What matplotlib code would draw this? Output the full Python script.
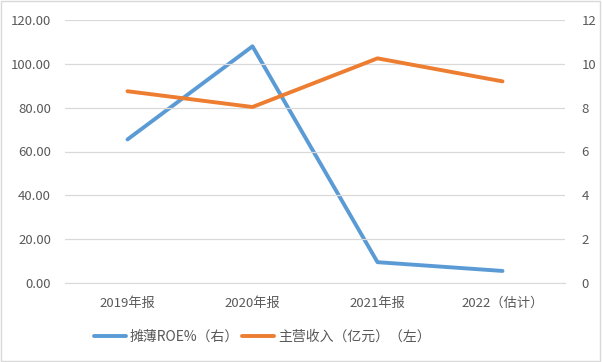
import matplotlib.pyplot as plt

plt.rcParams['font.family'] = ['Noto Sans CJK SC', 'DejaVu Sans']

categories = ['2019年报', '2020年报', '2021年报', '2022（估计）']
roe = [6.55, 10.8, 0.95, 0.55]          # 摊薄ROE%, right axis
revenue = [87.5, 80.3, 102.5, 92.0]     # 主营收入（亿元）, left axis

blue = '#5b9bd5'
orange = '#ed7d31'
text_color = '#595959'


def main():
    fig = plt.figure(figsize=(6.02, 3.62), dpi=100)
    ax = fig.add_axes([65 / 602, 1 - 283 / 362, 500 / 602, 263 / 362])
    ax2 = ax.twinx()

    x = range(len(categories))
    l1, = ax2.plot(x, roe, color=blue, lw=2.8, solid_capstyle='round',
                   label='摊薄ROE%（右）')
    l2, = ax.plot(x, revenue, color=orange, lw=2.8, solid_capstyle='round',
                  label='主营收入（亿元）（左）')
    ax.set_zorder(ax2.get_zorder() + 1)
    ax.patch.set_visible(False)

    ax.set_xlim(-0.5, len(categories) - 0.5)
    ax.set_ylim(0, 120)
    ax2.set_ylim(0, 12)
    ax.set_yticks(range(0, 121, 20))
    ax.set_yticklabels(['%.2f' % v for v in range(0, 121, 20)])
    ax2.set_yticks(range(0, 13, 2))
    ax.set_xticks(list(x))
    ax.set_xticklabels(categories)

    ax.grid(axis='y', color='#d9d9d9', lw=0.9)
    ax.set_axisbelow(True)
    for a in (ax, ax2):
        for s in a.spines.values():
            s.set_visible(False)
        a.tick_params(length=0, colors=text_color, labelsize=9.5)
    ax.spines['bottom'].set_visible(True)
    ax.spines['bottom'].set_color('#d9d9d9')
    ax.tick_params(axis='x', pad=10)
    ax.tick_params(axis='y', pad=10)
    ax2.tick_params(axis='y', pad=12)

    leg = fig.legend(handles=[l1, l2], loc='center', bbox_to_anchor=(262 / 602, 1 - 337 / 362),
                     ncol=2, frameon=False, fontsize=10, handlelength=2.3,
                     columnspacing=0.2, handletextpad=0.3)
    for t in leg.get_texts():
        t.set_color(text_color)

    fig.patches.append(plt.Rectangle((0.002, 0.003), 0.995, 0.994, transform=fig.transFigure,
                                     fill=False, edgecolor='#d9d9d9', lw=1))
    fig.savefig('out.png', dpi=100)


if __name__ == "__main__":
    main()
